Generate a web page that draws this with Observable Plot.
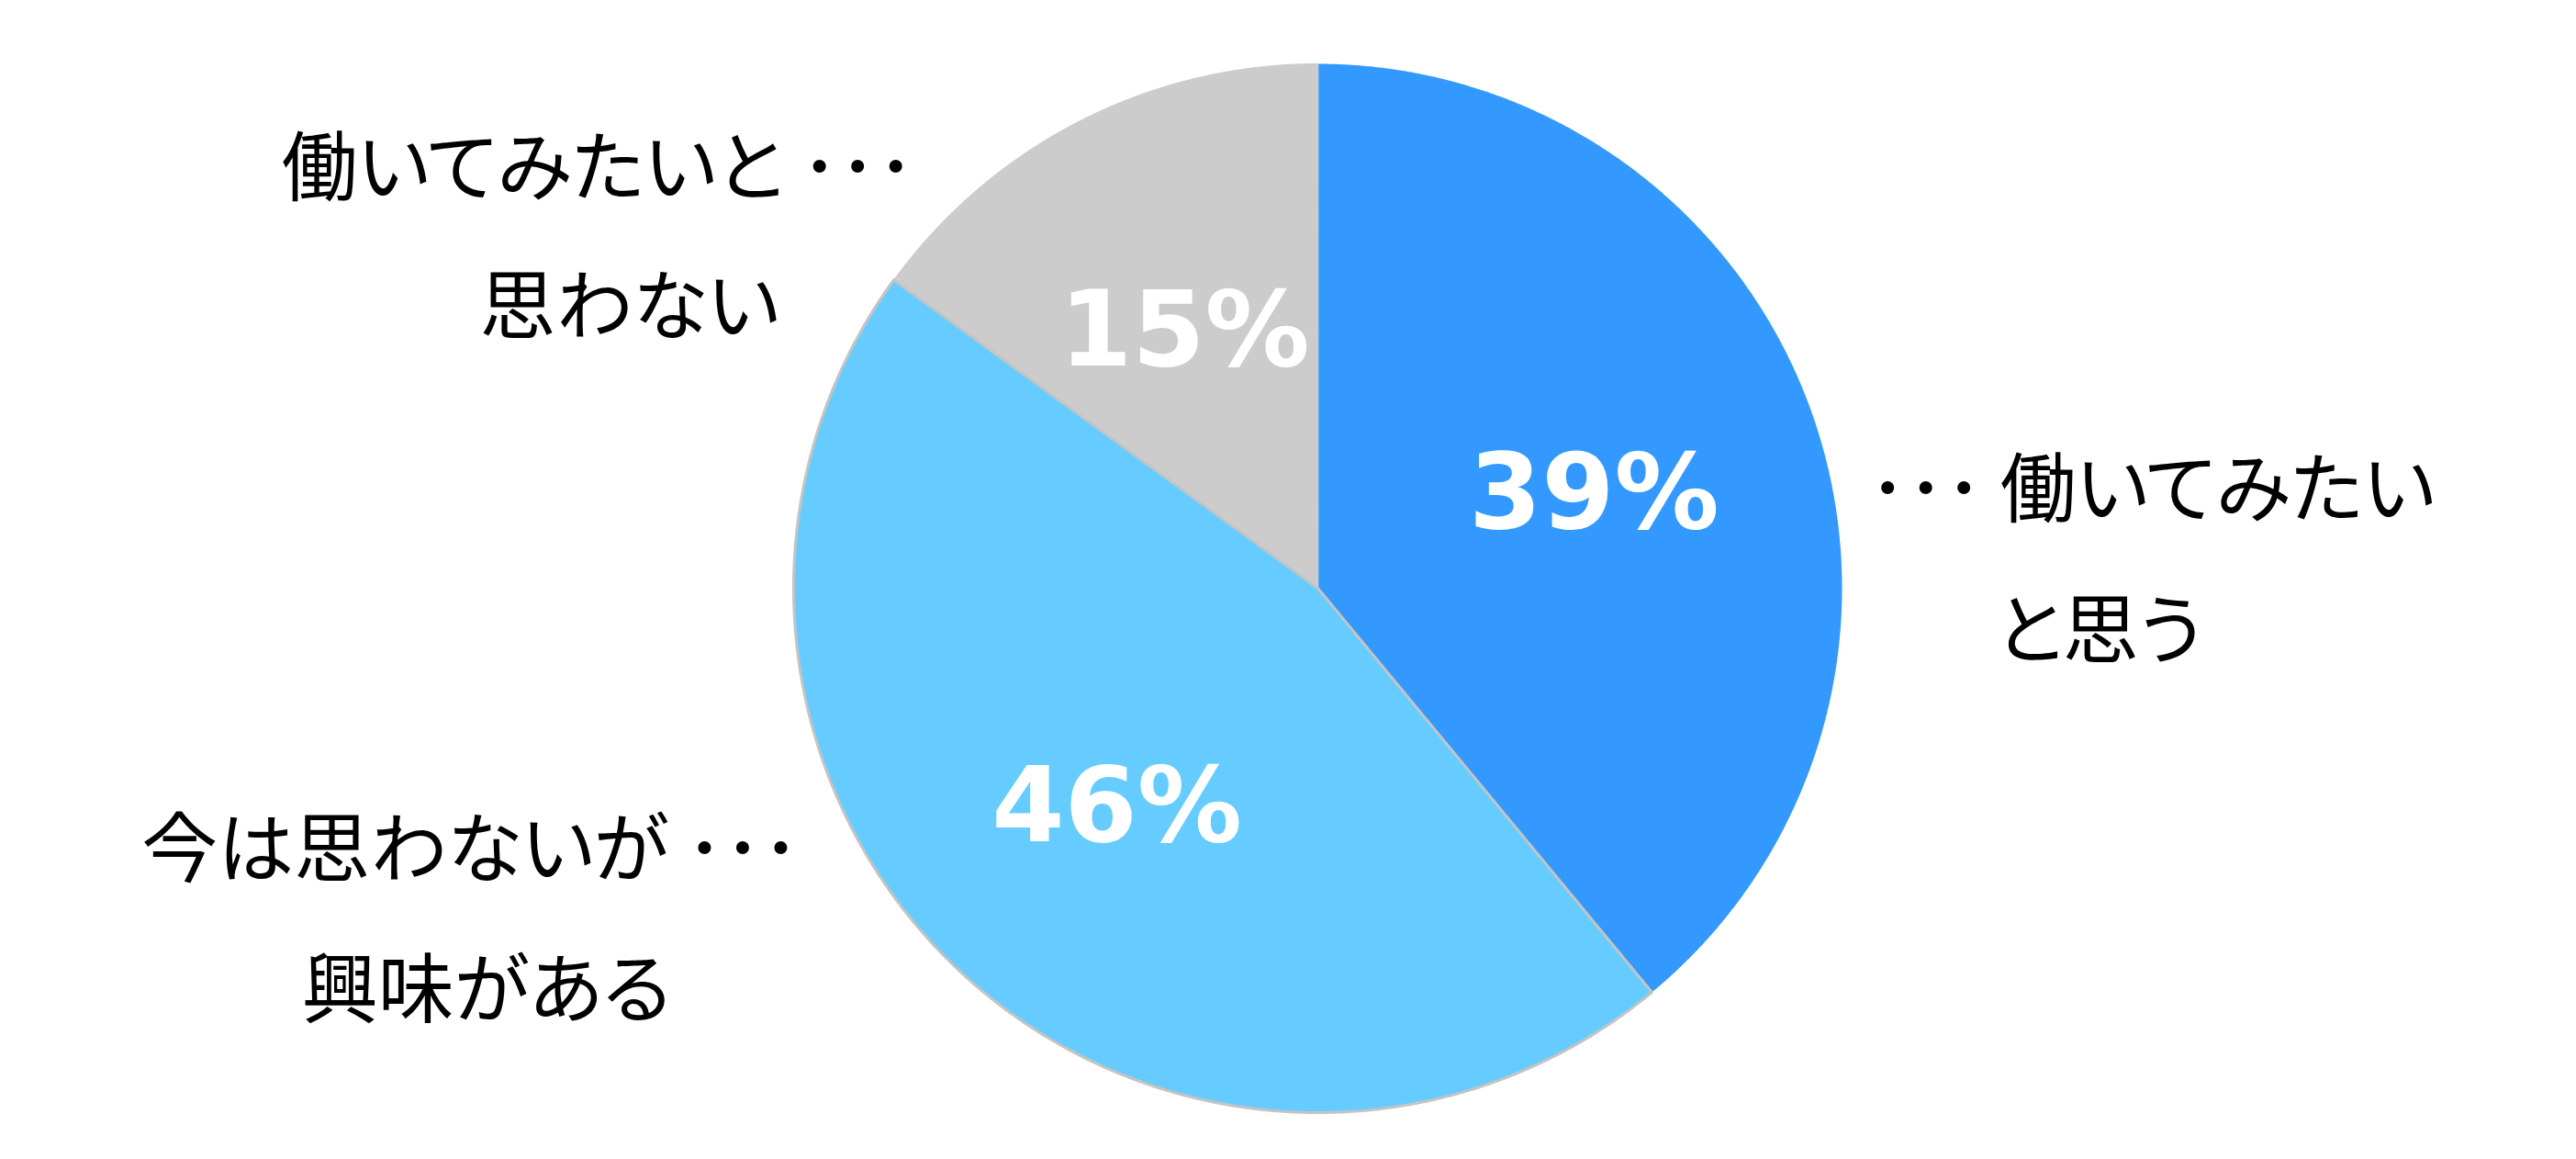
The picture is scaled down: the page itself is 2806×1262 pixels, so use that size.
<!DOCTYPE html>
<html><head><meta charset="utf-8">
<script src="https://cdn.jsdelivr.net/npm/d3@7"></script>
<script src="https://cdn.jsdelivr.net/npm/@observablehq/plot@0.6"></script>
<style>
html,body{margin:0;padding:0;background:#fff;}
#chart svg{display:block;}
#chart text{font-feature-settings:"palt";}
</style></head><body>
<div id="chart"></div>
<script>
// ---- data ----
const categories = ["･･･ 働いてみたい\nと思う", "今は思わないが ･･･\n興味がある", "働いてみたいと ･･･\n思わない"];
const values = [39, 46, 15];
const valueLabels = ["39%", "46%", "15%"];
const colors = ["#3399ff", "#66ccff", "#cccccc"];

// ---- layout ----
const W = 2806, H = 1262;
const cx = 1435, cy = 640, R = 571;
// label line centres, in pie-radius units relative to the pie centre
const lineAt = [
  [[1.591, 0.193], [1.490, -0.077]],
  [[-1.616, -0.494], [-1.586, -0.762]],
  [[-1.373, 0.806], [-1.313, 0.541]]
];

const total = d3.sum(values);
let acc = 0;
const slices = values.map((v, i) => {
  const a0 = acc / total * 2 * Math.PI;
  acc += v;
  const a1 = acc / total * 2 * Math.PI;
  return {i, a0, a1, mid: (a0 + a1) / 2, label: valueLabels[i], color: colors[i]};
});
function wedge(s) {
  const n = Math.max(2, Math.ceil((s.a1 - s.a0) / (Math.PI / 720)));
  const pts = [{x: 0, y: 0}];
  for (let k = 0; k <= n; k++) {
    const a = s.a0 + (s.a1 - s.a0) * k / n;
    pts.push({x: Math.sin(a), y: Math.cos(a)});
  }
  return pts;
}
const sliceStroke = ["#3399ff", "#c4c4c4", "#cccccc"];
const sliceWidth = [0, 3, 1];
const order = [0, 2, 1];
const sliceMarks = order.map(i => Plot.line(wedge(slices[i]), {
  x: "x", y: "y", curve: "linear-closed",
  fill: slices[i].color, stroke: sliceStroke[i], strokeWidth: sliceWidth[i], strokeLinejoin: "round"
}));

const labelLines = categories.flatMap((c, i) => c.split("\n").map((t, j) => ({i, j, text: t})));

const chart = Plot.plot({
  width: W, height: H,
  marginLeft: cx - R, marginRight: W - cx - R, marginTop: cy - R, marginBottom: H - cy - R,
  x: {domain: [-1, 1], axis: null},
  y: {domain: [-1, 1], axis: null},
  style: {background: "white", overflow: "visible"},
  marks: [
    ...sliceMarks,
    Plot.text(slices, {
      x: d => 0.56 * Math.sin(d.mid), y: d => 0.56 * Math.cos(d.mid),
      text: "label", fill: "white", fontSize: 114, fontWeight: "bold",
      fontFamily: "DejaVu Sans", dy: 6
    }),
    Plot.text(labelLines, {
      x: d => lineAt[d.i][d.j][0], y: d => lineAt[d.i][d.j][1],
      text: "text", fill: "black", fontSize: 83,
      fontFamily: "'Noto Sans CJK JP'", textAnchor: "middle", dy: 5
    })
  ]
});
document.getElementById("chart").append(chart);
</script>
</body></html>
